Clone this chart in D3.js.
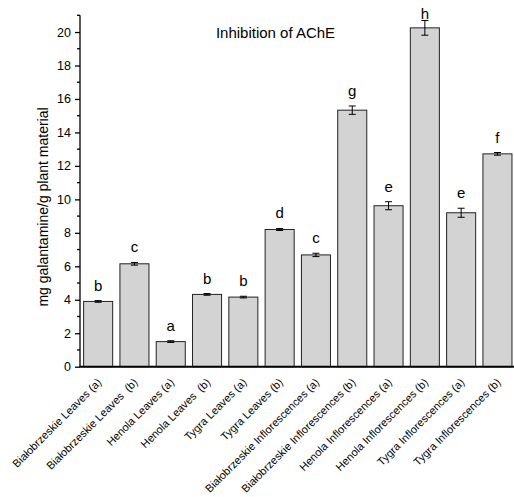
<!DOCTYPE html>
<html>
<head>
<meta charset="utf-8">
<script src="https://cdn.jsdelivr.net/npm/d3@7"></script>
<style>
  body { margin: 0; background: white; }
  text { font-family: "Liberation Sans", Arial, sans-serif; fill: #000; }
</style>
</head>
<body>
<svg></svg>
<script>
var w = 514
var h = 497

var categories = [
  "Białobrzeskie Leaves (a)",
  "Białobrzeskie Leaves  (b)",
  "Henola Leaves (a)",
  "Henola Leaves  (b)",
  "Tygra Leaves (a)",
  "Tygra Leaves (b)",
  "Białobrzeskie Inflorescences (a)",
  "Białobrzeskie Inflorescences (b)",
  "Henola Inflorescences (a)",
  "Henola Inflorescences (b)",
  "Tygra Inflorescences (a)",
  "Tygra Inflorescences (b)"
]
var values = [3.9, 6.15, 1.5, 4.32, 4.16, 8.2, 6.68, 15.33, 9.62, 20.25, 9.2, 12.72]
var errors = [0.05, 0.08, 0.05, 0.05, 0.05, 0.06, 0.1, 0.25, 0.24, 0.44, 0.27, 0.08]
var letters = ["b", "c", "a", "b", "b", "d", "c", "g", "e", "h", "e", "f"]
var majorTicks = [0, 2, 4, 6, 8, 10, 12, 14, 16, 18, 20]
var minorTicks = [1, 3, 5, 7, 9, 11, 13, 15, 17, 19, 21]

var svg = d3.select("svg")
  .attr("width", w)
  .attr("height", h)

var x = d3.scaleBand()
  .domain(categories)
  .range([80, 80 + 12 * 36.3])
  .paddingInner(0.2)
  .paddingOuter(0.1)

var y = d3.scaleLinear()
  .domain([0, 21])
  .range([366.7, 15.3])

// bars
svg.selectAll("rect.bar")
  .data(values)
  .enter().append("rect")
  .attr("class", "bar")
  .attr("x", function(d, i) { return x(categories[i]) })
  .attr("y", function(d) { return y(d) })
  .attr("width", x.bandwidth())
  .attr("height", function(d) { return y(0) - y(d) })
  .attr("fill", "#d3d3d3")
  .attr("stroke", "#222")
  .attr("stroke-width", 1)

// error bars
var eb = svg.selectAll("g.err")
  .data(values)
  .enter().append("g")
  .attr("class", "err")
  .attr("stroke", "#000")
  .attr("stroke-width", 1)

eb.append("line")
  .attr("x1", function(d, i) { return x(categories[i]) + x.bandwidth() / 2 })
  .attr("x2", function(d, i) { return x(categories[i]) + x.bandwidth() / 2 })
  .attr("y1", function(d, i) { return y(d - errors[i]) })
  .attr("y2", function(d, i) { return y(d + errors[i]) })

eb.selectAll("line.cap")
  .data(function(d, i) { return [{i: i, v: d - errors[i]}, {i: i, v: d + errors[i]}] })
  .enter().append("line")
  .attr("class", "cap")
  .attr("x1", function(d) { return x(categories[d.i]) + x.bandwidth() / 2 - 3.5 })
  .attr("x2", function(d) { return x(categories[d.i]) + x.bandwidth() / 2 + 3.5 })
  .attr("y1", function(d) { return y(d.v) })
  .attr("y2", function(d) { return y(d.v) })

// significance letters
svg.selectAll("text.letter")
  .data(letters)
  .enter().append("text")
  .attr("class", "letter")
  .attr("x", function(d, i) { return x(categories[i]) + x.bandwidth() / 2 })
  .attr("y", function(d, i) { return Math.max(y(values[i] + errors[i]) - 10, 18.5) })
  .attr("text-anchor", "middle")
  .style("font-size", "15px")
  .text(function(d) { return d })

// y axis
var yAxis = svg.append("g")
  .attr("transform", "translate(80,0)")
  .call(d3.axisLeft(y).tickValues(majorTicks).tickSize(5).tickPadding(4).tickFormat(d3.format("d")))
yAxis.select(".domain").attr("d", "M0," + y(21) + "V" + y(0)).attr("stroke", "#000").attr("stroke-width", 1.3)
yAxis.selectAll(".tick line").attr("stroke", "#000").attr("stroke-width", 1.3)
yAxis.selectAll(".tick text").style("font-size", "12.5px").style("font-family", "'Liberation Sans', Arial, sans-serif").attr("fill", "#000")

yAxis.selectAll("line.minor")
  .data(minorTicks)
  .enter().append("line")
  .attr("class", "minor")
  .attr("x1", -3)
  .attr("x2", 0)
  .attr("y1", function(d) { return y(d) })
  .attr("y2", function(d) { return y(d) })
  .attr("stroke", "#000")
  .attr("stroke-width", 1.3)

// x axis line
svg.append("line")
  .attr("x1", 79.4)
  .attr("x2", w)
  .attr("y1", y(0))
  .attr("y2", y(0))
  .attr("stroke", "#000")
  .attr("stroke-width", 2)

// x labels
svg.selectAll("text.xlab")
  .data(categories)
  .enter().append("text")
  .attr("class", "xlab")
  .attr("transform", function(d) { return "translate(" + (x(d) + x.bandwidth() / 2 + 4) + "," + 383 + ") rotate(-45)" })
  .attr("text-anchor", "end")
  .style("font-size", "11px")
  .style("white-space", "pre")
  .text(function(d) { return d })

// y label
svg.append("text")
  .attr("transform", "translate(48,207) rotate(-90)")
  .attr("text-anchor", "middle")
  .style("font-size", "14px")
  .text("mg galantamine/g plant material")

// title
svg.append("text")
  .attr("x", 275.5)
  .attr("y", 38)
  .attr("text-anchor", "middle")
  .style("font-size", "15px")
  .text("Inhibition of AChE")
</script>
</body>
</html>
